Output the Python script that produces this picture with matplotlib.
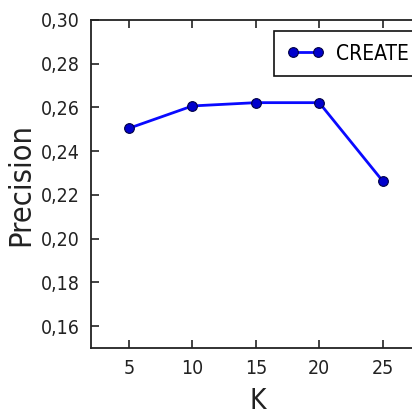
import matplotlib
matplotlib.use('Agg')
import matplotlib.pyplot as plt
from matplotlib.ticker import FuncFormatter

# values
k_values = [5, 10, 15, 20, 25]
precision = [0.2505, 0.2607, 0.2622, 0.2622, 0.2264]
series_name = 'CREATE'
y_ticks = [0.16, 0.18, 0.20, 0.22, 0.24, 0.26, 0.28, 0.30]
x_ticks = [5, 10, 15, 20, 25]

plt.rcParams['font.family'] = ['DejaVu Sans']
plt.rcParams['font.stretch'] = 'condensed'

fig = plt.figure(figsize=(4.12, 4.18), dpi=100)
# the right part of the axes runs past the picture edge, as in the reference
ax = fig.add_axes([91 / 412, 70 / 418, 355 / 412, 328 / 418])

ax.plot(k_values, precision, color='#0a0aff', linewidth=2, marker='o',
        markersize=7, markerfacecolor='#0000cc', markeredgecolor='#000044',
        markeredgewidth=0.8, label=series_name)

ax.set_xlim(2, 30)
ax.set_ylim(0.15, 0.30)
ax.set_xticks(x_ticks)
ax.set_yticks(y_ticks)
ax.yaxis.set_major_formatter(FuncFormatter(lambda v, p: f'{v:.2f}'.replace('.', ',')))

ax.tick_params(direction='in', length=6, width=1.2, top=True, right=False,
               labelsize=14, pad=8, colors='#222222')
for s in ax.spines.values():
    s.set_linewidth(1.3)
    s.set_color('#222222')
ax.spines['right'].set_visible(False)

ax.set_xlabel('K', fontsize=20, color='#222222')
ax.xaxis.set_label_coords(0.47, -0.12)
ax.set_ylabel('Precision', fontsize=22, color='#222222', labelpad=4)

leg = ax.legend(loc='upper left', bbox_to_anchor=(0.515, 0.966), borderaxespad=0,
                numpoints=2, handlelength=1.8, fontsize=15, fancybox=False,
                framealpha=1, edgecolor='#111111', borderpad=0.6, handletextpad=0.6)
leg.get_frame().set_linewidth(1.2)

fig.savefig('out.png', dpi=100)
